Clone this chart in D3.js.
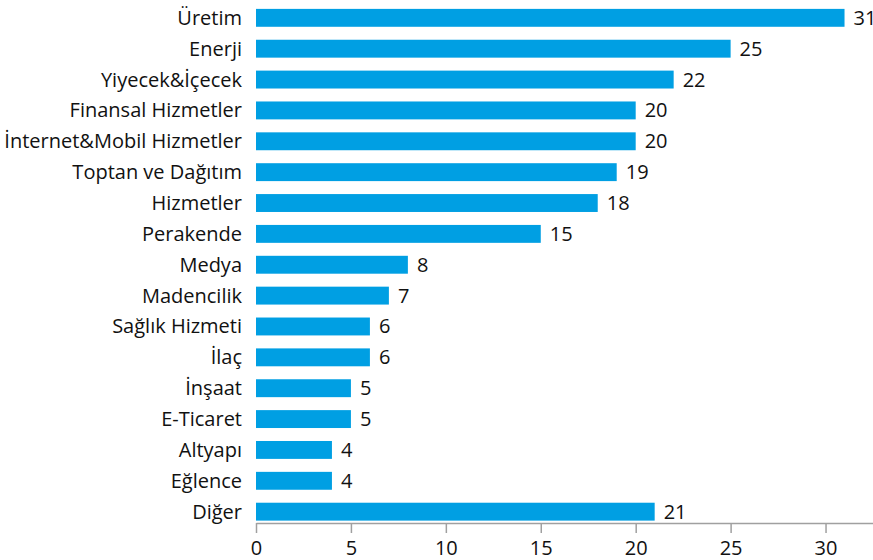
<!DOCTYPE html>
<html lang="tr">
<head>
<meta charset="UTF-8">
<title>Sektörler</title>
<script src="https://d3js.org/d3.v7.min.js"></script>
<style>
    body { margin: 0; background: #fff; }
    svg text { font-family: "Open Sans", sans-serif; fill: #111; }
    .bar { fill: #009fe3; }
    .axis path, .axis line { stroke: #a0a0a0; stroke-width: 1.5; }
</style>
</head>
<body>
<script>
    const width = 873;
    const height = 560;

    const sectors = ["Üretim", "Enerji", "Yiyecek&İçecek", "Finansal Hizmetler",
        "İnternet&Mobil Hizmetler", "Toptan ve Dağıtım", "Hizmetler", "Perakende",
        "Medya", "Madencilik", "Sağlık Hizmeti", "İlaç", "İnşaat", "E-Ticaret",
        "Altyapı", "Eğlence", "Diğer"];
    const counts = [31, 25, 22, 20, 20, 19, 18, 15, 8, 7, 6, 6, 5, 5, 4, 4, 21];
    const xTicks = [0, 5, 10, 15, 20, 25, 30];

    const svg = d3.select("body").append("svg")
        .attr("width", width).attr("height", height);

    const x = d3.scaleLinear().domain([0, 32.5]).range([256, 873]);
    const y = d3.scaleBand().domain(sectors).range([2.4, 527.1])
        .paddingInner(0.42).paddingOuter(0.21);

    const rows = svg.selectAll("g.row")
        .data(sectors.map((s, i) => ({ name: s, value: counts[i] })))
        .enter().append("g").attr("class", "row");

    rows.append("rect")
        .attr("class", "bar")
        .attr("x", x(0))
        .attr("y", d => y(d.name))
        .attr("width", d => x(d.value) - x(0))
        .attr("height", y.bandwidth());

    rows.append("text")
        .attr("x", x(0) - 14)
        .attr("y", d => y(d.name) + y.bandwidth() / 2)
        .attr("dy", "0.35em")
        .attr("text-anchor", "end")
        .style("font-size", "20px")
        .text(d => d.name);

    rows.append("text")
        .attr("x", d => x(d.value) + 9)
        .attr("y", d => y(d.name) + y.bandwidth() / 2)
        .attr("dy", "0.35em")
        .style("font-size", "20px")
        .text(d => d.value);

    const axis = svg.append("g")
        .attr("class", "axis")
        .attr("transform", "translate(0,523)")
        .call(d3.axisBottom(x).tickValues(xTicks).tickSize(10).tickSizeOuter(0).tickPadding(8));
    axis.selectAll("text").style("font-size", "20px").attr("fill", "#111");
</script>
</body>
</html>
